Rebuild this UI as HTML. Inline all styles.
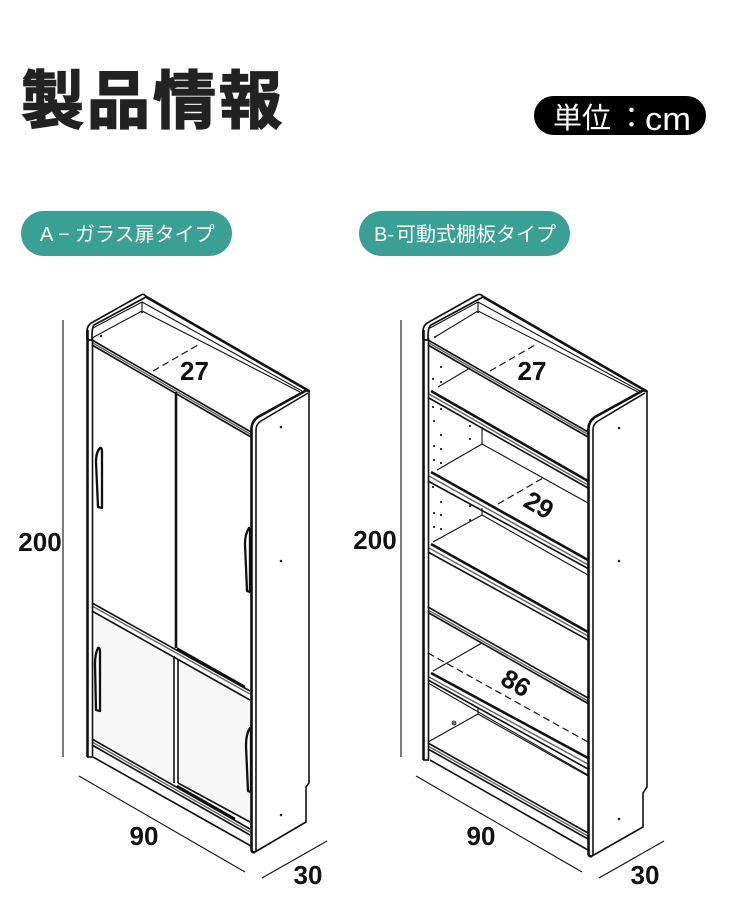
<!DOCTYPE html>
<html lang="ja"><head><meta charset="utf-8"><title>製品情報</title>
<style>
html,body{margin:0;padding:0;background:#fff}
svg{display:block}
text{font-family:"Liberation Sans","Noto Sans CJK JP",sans-serif}
.n{font-weight:700;font-size:26px;fill:#111;text-anchor:middle}
.l{fill:none;stroke:#111;stroke-width:1.1}
.m{fill:none;stroke:#111;stroke-width:1.6}
.t{fill:none;stroke:#111;stroke-width:2.6}
.g{fill:none;stroke:#666;stroke-width:1.4}
.d{fill:none;stroke:#111;stroke-width:1.2;stroke-dasharray:7 4}
.h{fill:#fff;stroke:#111;stroke-width:2.3;stroke-linejoin:round}
.f{fill:#fff;stroke:#111;stroke-width:1.7;stroke-linejoin:round}
circle{fill:#222}
</style></head><body>
<svg width="750" height="912" viewBox="0 0 750 912" xmlns="http://www.w3.org/2000/svg">
<rect width="750" height="912" fill="#fff"/>
<text x="21" y="123" font-size="63" font-weight="700" fill="#222" stroke="#222" stroke-width="1.6" textLength="261" lengthAdjust="spacing">製品情報</text>
<rect x="534" y="96" width="172" height="39" rx="19.5" fill="#000"/>
<text x="553" y="128" font-size="29" fill="#fff">単位</text>
<text x="617" y="128" font-size="29" fill="#fff">：</text>
<text x="645" y="130" font-size="32" fill="#fff" textLength="46" lengthAdjust="spacingAndGlyphs">cm</text>
<rect x="21" y="211" width="211" height="45" rx="22.5" fill="#3a9f95"/>
<text x="40" y="241" font-size="20" fill="#fff">A</text>
<text x="58" y="241" font-size="20" fill="#fff">−</text>
<text x="75" y="241" font-size="20" fill="#fff">ガラス扉タイプ</text>
<rect x="359" y="211" width="211" height="45" rx="22.5" fill="#3a9f95"/>
<text x="374" y="241" font-size="20" fill="#fff">B-</text>
<text x="396" y="241" font-size="20" fill="#fff">可動式棚板タイプ</text>

<!-- LEFT CABINET -->
<g>
<path class="l" d="M63 320V757M79 776L245 872M262 878L327 841"/>
<path class="l" d="M93 328L142 302V311L92 338M142 311L300 392M142 302L302 391"/>
<path class="t" d="M143 295L309 391"/>
<path class="f" d="M87 340V331Q87 325 93 322L141 295Q144 293 146 297L94 325Q92 327 92 338V340Z"/>
<path d="M93 612L174 657V784L93 740Z" fill="#f7f7f7"/>
<path d="M178 660L251 701V822L178 783Z" fill="#f7f7f7"/>
<path class="m" d="M92 340L251 432"/>
<path class="g" d="M92 342.500L251 434.500"/>
<path class="m" d="M92 345L251 437"/>
<path class="t" d="M176 392V648"/>
<path class="m" d="M92 603L250 691"/>
<path class="g" d="M92 606L250 694"/>
<path class="m" d="M92 611L250 700"/>
<path class="t" d="M177 648.500L245 687"/>
<path class="m" d="M174 656V783M178 660V783"/>
<path class="m" d="M92 739L250 829"/>
<path class="g" d="M92 742L250 832"/>
<path class="m" d="M92 745L250 835"/>
<path class="m" d="M178 783L250 822"/>
<path class="t" d="M177 786L235 819"/>
<path class="m" d="M93 757L251 846"/>
<path class="t" d="M87.500 330V757"/>
<path class="m" d="M92.500 338V757"/>
<path class="m" d="M87 757H93"/>
<path class="h" d="M100 448Q96 452 96 462L98 507L102 508L102 452Q102 447 100 448Z"/>
<path class="h" d="M98 648Q95 654 95 664L96 710L100 711L100 652Q100 647 98 648Z"/>
<path class="h" d="M249 528Q245 534 245 544L247 591L250 592V530Z"/>
<path class="h" d="M250 728Q246 734 246 746L248 791L251 792V730Z"/>
<path d="M252 852V428Q252 421 258 417L305 391Q309 389 309 393V783L306 793V822L255 852Z" fill="#fff"/>
<path class="m" d="M256 851V430Q256 424 261 421L308 393"/>
<path class="t" d="M251.500 432V428Q252 421 258 417L306 390.500Q309 390 309 392"/>
<path class="t" d="M251.500 432V850Q252 853 255 852"/>
<path class="m" d="M309 391V783L306 787V822L255 852"/>
<circle cx="281" cy="427" r="1.300"/><circle cx="281" cy="561" r="1.300"/><circle cx="281" cy="815" r="1.300"/>
<circle cx="101" cy="336" r="1.200"/><circle cx="142" cy="312" r="1.200"/>
<path class="d" d="M153 371L198 345"/>
<text class="n" x="194.500" y="380">27</text>
<text class="n" x="144" y="845">90</text>
<text class="n" x="308" y="884">30</text>
<text class="n" x="40" y="551">200</text>
</g>

<!-- RIGHT CABINET -->
<g>
<path class="l" d="M401 320V757M416 776L582 872M599 878L664 841"/>
<path class="l" d="M430 328L478 302V311L435 337M478 311L638 392M478 302L640 391"/>
<path class="t" d="M480 295L646 391"/>
<path class="f" d="M423 340V331Q423 325 429 322L477 295Q481 293 483 297L431 325Q428 327 428 338V340Z"/>
<path class="l" d="M470 368L438 387M482 427V444M482 444L437 470M482 444L588 503M482 515L433 542M482 508V515M482 515L588 575M482 643L433 671M478 707V714M478 714L428 742M478 714L588 776"/>
<path class="m" d="M428 340L588 432"/>
<path class="g" d="M428 342.500L588 434.500"/>
<path class="m" d="M428 345L588 437"/>
<path class="t" d="M431 391L588 481"/>
<path class="g" d="M429 394L588 485"/>
<path class="m" d="M428 397.500L588 488"/>
<path class="t" d="M431 472L588 560"/>
<path class="g" d="M429 476L588 565"/>
<path class="m" d="M428 481L588 568.500"/>
<path class="t" d="M431 544L588 632"/>
<path class="g" d="M429 548L588 636"/>
<path class="m" d="M428 552L588 640"/>
<path class="m" d="M428 607L588 698"/>
<path class="g" d="M428 610L588 701"/>
<path class="m" d="M428 612.500L588 703.500"/>
<path class="d" d="M428 653L588 742"/>
<path class="t" d="M431 673L588 758"/>
<path class="g" d="M429 677L588 764"/>
<path class="m" d="M428 680L588 769"/>
<path class="l" d="M428 683L588 775"/>
<path class="m" d="M428 743L588 833"/>
<path class="g" d="M428 746L588 836"/>
<path class="m" d="M428 749L588 839"/>
<path class="m" d="M430 760L588 850"/>
<path class="t" d="M423.500 330V760"/>
<path class="m" d="M428.500 338V760"/>
<path class="m" d="M423 760H429"/>
<path d="M589 856V428Q589 421 595 417L642 391Q646 389 647 393V787L643 793V827L592 856Z" fill="#fff"/>
<path class="m" d="M593 855V430Q593 424 598 421L645 393"/>
<path class="t" d="M588.500 432V428Q589 421 595 417L643 390.500Q646 390 647 392"/>
<path class="t" d="M588.500 432V854Q589 857 592 856"/>
<path class="m" d="M647 391V787L643 793V827L592 856"/>
<circle cx="619" cy="428" r="1.300"/><circle cx="619" cy="561" r="1.300"/><circle cx="619" cy="819" r="1.300"/>
<g>
<circle cx="435" cy="337" r="1.100"/><circle cx="478" cy="312" r="1.100"/>
<circle cx="441" cy="367" r="1.100"/><circle cx="433" cy="379" r="1.100"/><circle cx="441" cy="382" r="1.100"/>
<circle cx="433" cy="407" r="1.100"/><circle cx="441" cy="409" r="1.100"/><circle cx="434" cy="421" r="1.100"/>
<circle cx="441" cy="435" r="1.100"/><circle cx="470" cy="426" r="1.100"/><circle cx="470" cy="439" r="1.100"/>
<circle cx="434" cy="446" r="1.100"/><circle cx="441" cy="449" r="1.100"/><circle cx="434" cy="460" r="1.100"/><circle cx="441" cy="463" r="1.100"/>
<circle cx="433" cy="487" r="1.100"/><circle cx="441" cy="502" r="1.100"/><circle cx="470" cy="506" r="1.100"/>
<circle cx="434" cy="513" r="1.100"/><circle cx="441" cy="515" r="1.100"/><circle cx="434" cy="527" r="1.100"/><circle cx="441" cy="529" r="1.100"/><circle cx="470" cy="520" r="1.100"/>
</g>
<circle cx="454" cy="723" r="2" style="fill:#777;stroke:#222;stroke-width:.8"/>
<path class="d" d="M490 371L535 345M498 504L543 478"/>
<text class="n" x="532" y="380">27</text>
<text class="n" transform="translate(539 505) rotate(30)" y="9">29</text>
<text class="n" transform="translate(516 683) rotate(30)" y="9">86</text>
<text class="n" x="481" y="845">90</text>
<text class="n" x="645" y="884">30</text>
<text class="n" x="375" y="549">200</text>
</g>
</svg>
</body></html>
